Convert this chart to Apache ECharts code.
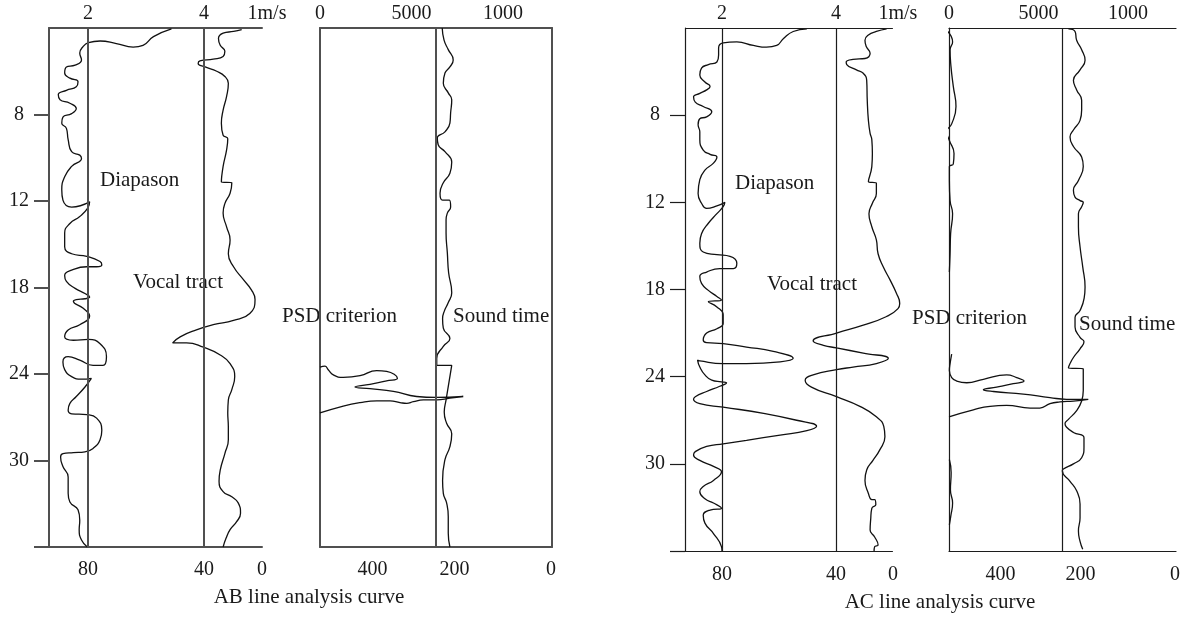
<!DOCTYPE html>
<html>
<head>
<meta charset="utf-8">
<script src="https://cdn.jsdelivr.net/npm/echarts@6/dist/echarts.min.js"></script>
<style>
html, body { margin: 0; padding: 0; background: #fff; }
#chart { width: 1188px; height: 618px; }
</style>
</head>
<body>
<div id="chart"></div>
<script>
// depth axis: evenly spaced steps, labelled 8 ... 30
const depthSteps  = [1, 2, 3, 4, 5]
const depthLabels = ['8', '12', '18', '24', '30']
const depthTickAt = [1, 2, 3, 4, 5, 6]

// left track (m/s scale on top, 80..0 on bottom)
const speedPos       = [2, 4, 5]
const speedTopLabels = ['2', '4', '1m/s']
const speedBotLabels = ['80', '40', '0']
const speedRefLines  = [2, 4]

// right track (0..1000 on top, 400..0 on bottom)
const timeTopPos    = [0, 500, 1000]
const timeTopLabels = ['0', '5000', '1000']
const timeBotPos    = [287, 735, 1262]
const timeBotLabels = ['400', '200', '0']
const timeRefLineAB = 634
const timeRefLineAC = 631

const diapasonAB = [[3.44,0.01],[3.13,0.10],[2.95,0.20],[2.78,0.22],[2.49,0.18],[2.21,0.15],[2.01,0.17],[1.91,0.22],[1.86,0.29],[1.89,0.37],[1.78,0.43],[1.63,0.45],[1.60,0.52],[1.69,0.58],[1.83,0.62],[1.80,0.68],[1.63,0.72],[1.49,0.77],[1.52,0.83],[1.69,0.87],[1.80,0.93],[1.72,0.99],[1.57,1.03],[1.55,1.10],[1.63,1.16],[1.66,1.29],[1.72,1.43],[1.86,1.47],[1.89,1.51],[1.72,1.60],[1.60,1.72],[1.55,1.87],[1.57,1.99],[1.72,2.07],[2.03,2.01],[2.00,2.08],[1.86,2.18],[1.69,2.26],[1.60,2.37],[1.60,2.53],[1.72,2.61],[1.98,2.64],[2.21,2.70],[2.24,2.74],[2.15,2.76],[1.98,2.76],[1.72,2.80],[1.60,2.86],[1.63,2.93],[1.78,3.01],[1.95,3.07],[2.03,3.11],[1.95,3.13],[1.80,3.14],[1.75,3.16],[1.92,3.24],[2.03,3.33],[1.86,3.43],[1.66,3.49],[1.60,3.57],[1.75,3.61],[2.01,3.60],[2.21,3.65],[2.32,3.80],[2.26,3.90],[2.09,3.90],[1.86,3.84],[1.66,3.80],[1.57,3.86],[1.60,3.95],[1.72,4.03],[1.89,4.06],[2.06,4.05],[1.95,4.15],[1.80,4.26],[1.69,4.34],[1.66,4.42],[1.72,4.46],[1.98,4.47],[2.15,4.51],[2.24,4.65],[2.21,4.76],[2.09,4.86],[1.95,4.90],[1.75,4.91],[1.57,4.92],[1.53,4.96],[1.57,5.07],[1.66,5.19],[1.66,5.38],[1.69,5.48],[1.83,5.57],[1.86,5.69],[1.85,5.80],[1.89,5.92],[1.99,6.00]]

const vocalAB = [[4.65,0.02],[4.51,0.04],[4.33,0.06],[4.25,0.12],[4.28,0.20],[4.36,0.27],[4.33,0.33],[4.16,0.36],[3.93,0.38],[3.90,0.41],[4.02,0.45],[4.22,0.50],[4.36,0.56],[4.42,0.64],[4.39,0.79],[4.33,0.95],[4.30,1.10],[4.33,1.24],[4.41,1.28],[4.39,1.41],[4.33,1.60],[4.30,1.78],[4.48,1.79],[4.45,1.91],[4.36,2.03],[4.33,2.14],[4.39,2.30],[4.45,2.45],[4.42,2.61],[4.51,2.76],[4.68,2.91],[4.82,3.03],[4.88,3.14],[4.79,3.30],[4.51,3.38],[4.16,3.43],[3.87,3.49],[3.59,3.57],[3.46,3.64],[3.70,3.64],[3.99,3.69],[4.28,3.78],[4.45,3.88],[4.53,4.03],[4.48,4.18],[4.42,4.30],[4.41,4.45],[4.42,4.61],[4.42,4.76],[4.36,4.92],[4.28,5.11],[4.26,5.24],[4.33,5.36],[4.48,5.42],[4.59,5.49],[4.63,5.61],[4.56,5.71],[4.45,5.80],[4.38,5.90],[4.33,6.00]]

const soundAB = [[668,0.00],[678,0.14],[701,0.25],[728,0.37],[710,0.45],[683,0.52],[674,0.64],[701,0.75],[720,0.83],[714,0.98],[710,1.10],[683,1.20],[641,1.27],[646,1.35],[683,1.43],[720,1.55],[710,1.68],[674,1.79],[656,1.91],[670,1.99],[707,1.99],[714,2.07],[696,2.14],[689,2.22],[689,2.37],[696,2.60],[703,2.83],[720,3.06],[700,3.18],[680,3.27],[670,3.36],[674,3.47],[710,3.59],[674,3.68],[638,3.82],[638,3.90],[720,3.90],[689,4.30],[679,4.44],[692,4.57],[720,4.69],[710,4.84],[683,4.99],[670,5.23],[674,5.38],[692,5.49],[701,5.65],[701,5.84],[710,6.00]]

const psdAB = [[0,3.92],[27,3.91],[45,3.95],[73,4.01],[127,4.04],[219,4.02],[310,3.96],[364,3.97],[423,4.05],[364,4.08],[273,4.12],[191,4.15],[273,4.17],[401,4.20],[528,4.26],[634,4.27],[783,4.26],[710,4.28],[638,4.30],[565,4.30],[510,4.32],[474,4.34],[437,4.33],[383,4.31],[310,4.31],[219,4.33],[127,4.37],[0,4.45]]

const diapasonAC = [[3.49,0.01],[3.25,0.04],[3.08,0.12],[2.96,0.20],[2.78,0.22],[2.55,0.20],[2.26,0.16],[2.02,0.17],[1.94,0.23],[1.94,0.31],[1.91,0.39],[1.76,0.42],[1.64,0.46],[1.61,0.54],[1.70,0.62],[1.79,0.67],[1.73,0.71],[1.61,0.75],[1.50,0.79],[1.53,0.85],[1.67,0.90],[1.82,0.96],[1.73,1.02],[1.61,1.04],[1.58,1.11],[1.61,1.19],[1.61,1.28],[1.67,1.40],[1.79,1.45],[1.91,1.48],[1.85,1.55],[1.70,1.63],[1.61,1.74],[1.58,1.90],[1.64,2.01],[1.73,2.07],[1.91,2.04],[2.05,2.00],[2.02,2.05],[1.91,2.13],[1.76,2.24],[1.64,2.36],[1.61,2.47],[1.67,2.57],[1.91,2.60],[2.14,2.62],[2.26,2.70],[2.20,2.76],[1.96,2.76],[1.73,2.80],[1.61,2.85],[1.64,2.93],[1.76,3.01],[1.91,3.08],[1.99,3.12],[1.76,3.14],[1.91,3.20],[2.02,3.29],[2.02,3.39],[1.91,3.45],[1.73,3.50],[1.67,3.58],[1.73,3.61],[2.02,3.62],[2.43,3.66],[2.90,3.71],[3.25,3.79],[3.02,3.83],[2.43,3.85],[2.02,3.85],[1.61,3.82],[1.57,3.81],[1.61,3.89],[1.70,3.98],[1.82,4.04],[1.99,4.06],[2.08,4.07],[1.96,4.11],[1.73,4.17],[1.53,4.23],[1.50,4.26],[1.61,4.31],[2.02,4.35],[2.73,4.42],[3.31,4.50],[3.66,4.57],[3.49,4.62],[3.02,4.67],[2.43,4.73],[2.02,4.77],[1.73,4.80],[1.53,4.86],[1.50,4.90],[1.61,4.96],[1.85,5.03],[1.99,5.09],[1.85,5.19],[1.67,5.26],[1.61,5.32],[1.70,5.40],[1.85,5.45],[1.99,5.51],[1.79,5.53],[1.67,5.59],[1.70,5.68],[1.85,5.80],[1.99,5.95],[2.00,6.00]]

const vocalAC = [[4.89,0.01],[4.71,0.04],[4.57,0.08],[4.51,0.14],[4.53,0.21],[4.60,0.29],[4.51,0.35],[4.30,0.36],[4.18,0.39],[4.19,0.42],[4.36,0.48],[4.48,0.52],[4.54,0.60],[4.55,0.83],[4.57,1.06],[4.60,1.21],[4.63,1.28],[4.64,1.44],[4.63,1.59],[4.57,1.76],[4.71,1.78],[4.71,1.90],[4.64,2.01],[4.58,2.13],[4.63,2.28],[4.71,2.43],[4.74,2.59],[4.83,2.74],[4.95,2.89],[5.06,3.04],[5.12,3.16],[5.09,3.22],[4.89,3.31],[4.48,3.41],[4.01,3.50],[3.60,3.59],[3.78,3.64],[4.01,3.67],[4.48,3.73],[4.92,3.79],[4.71,3.85],[4.30,3.89],[4.01,3.92],[3.60,3.98],[3.46,4.04],[3.57,4.12],[4.01,4.23],[4.42,4.34],[4.71,4.46],[4.84,4.57],[4.86,4.69],[4.77,4.84],[4.65,4.96],[4.54,5.07],[4.51,5.19],[4.57,5.34],[4.63,5.41],[4.68,5.41],[4.70,5.47],[4.63,5.51],[4.61,5.64],[4.60,5.76],[4.68,5.84],[4.74,5.93],[4.68,5.95],[4.67,6.00]]

const soundAC = [[667,0.01],[704,0.04],[713,0.14],[741,0.25],[760,0.37],[732,0.48],[695,0.60],[713,0.71],[741,0.83],[741,0.94],[732,1.06],[695,1.17],[676,1.25],[695,1.36],[741,1.48],[750,1.59],[723,1.75],[695,1.86],[704,1.94],[732,1.98],[750,2.00],[741,2.05],[723,2.13],[723,2.28],[732,2.51],[747,2.74],[760,2.97],[755,3.10],[732,3.24],[704,3.32],[704,3.43],[732,3.55],[754,3.60],[732,3.68],[695,3.78],[676,3.85],[667,3.90],[750,3.91],[750,4.16],[741,4.28],[713,4.39],[667,4.49],[648,4.54],[657,4.58],[695,4.64],[754,4.70],[754,4.81],[741,4.93],[695,5.00],[639,5.06],[633,5.08],[676,5.20],[713,5.31],[732,5.46],[732,5.62],[723,5.77],[732,5.89],[747,5.98]]

const psdAcTop = [[-17,0.02],[20,0.16],[6,0.25],[11,0.44],[24,0.67],[39,0.90],[15,1.10],[-13,1.19],[2,1.29],[28,1.44],[24,1.56],[2,1.59],[2,1.75],[6,1.98],[20,2.13],[9,2.36],[6,2.59],[2,2.80]]
const psdAC = [[15,3.74],[6,3.85],[2,3.93],[15,4.01],[43,4.05],[99,4.07],[192,4.03],[322,3.98],[378,4.01],[419,4.05],[359,4.08],[266,4.12],[192,4.15],[248,4.17],[415,4.20],[564,4.24],[657,4.26],[778,4.26],[695,4.28],[620,4.29],[564,4.31],[508,4.36],[453,4.36],[322,4.33],[229,4.34],[136,4.38],[0,4.46]]
const psdAcLow = [[2,4.95],[12,5.10],[8,5.30],[20,5.45],[10,5.60],[2,5.70]]

const FONT = 'Liberation Serif'
const INK = '#1a1a1a'
const frameAB = { color: '#505050', width: 2 }
const frameAC = { color: '#1c1c1c', width: 1.2 }

const labelStyle = { fontFamily: FONT, fontSize: 20, color: INK }

function pick(pos, labels) {
  return v => {
    const i = pos.indexOf(v)
    return i < 0 ? '' : labels[i]
  }
}

function xAxis(grid, min, max, position, pos, labels, frame, margin, showLine = true) {
  const fmt = pick(pos, labels)
  return {
    gridIndex: grid, type: 'value', position, min, max,
    splitLine: { show: false },
    axisTick: { show: false },
    axisLine: { show: showLine, onZero: false, lineStyle: frame },
    axisLabel: {
      ...labelStyle, margin, customValues: pos,
      formatter: v => (fmt(v) === '1m/s' ? '{u|1m/s}' : fmt(v)),
      rich: { u: { ...labelStyle, padding: [0, 0, 0, 10] } },
    },
  }
}

function depthAxis(grid, frame, withLabels, position = 'left') {
  return {
    gridIndex: grid, type: 'value', inverse: true, min: 0, max: 6, position,
    splitLine: { show: false },
    axisLine: { show: true, onZero: false, lineStyle: frame },
    axisTick: withLabels
      ? { show: true, customValues: depthTickAt, length: 15, lineStyle: frame }
      : { show: false },
    axisLabel: withLabels
      ? { ...labelStyle, customValues: depthSteps, formatter: pick(depthSteps, depthLabels), align: 'center', margin: 30 }
      : { show: false },
  }
}

function curve(data, xi, yi, refLines, frame) {
  const s = {
    type: 'line', data, xAxisIndex: xi, yAxisIndex: yi,
    smooth: 0.5, showSymbol: false, clip: false, silent: true,
    lineStyle: { color: '#111', width: 1.3 },
  }
  if (refLines) s.markLine = {
    silent: true, symbol: 'none', label: { show: false },
    lineStyle: { ...frame, type: 'solid' },
    data: refLines,
  }
  return s
}

function note(text, x, y, align = 'left') {
  return {
    type: 'text', x, y, silent: true,
    style: { text, fontFamily: FONT, fontSize: 21, fill: INK, align, verticalAlign: 'middle' },
  }
}

const vLines = vals => vals.map(v => ({ xAxis: v }))

// AC left track: curve bulges past the 1m/s end, so the grid is a little wider
// and the top / bottom frame lines are drawn only up to 5
const acMin = 1.35, acEnd = 5, acMax = 5.16
const acFrame = [
  ...vLines(speedRefLines),
  [{ coord: [acMin, 0] }, { coord: [acEnd, 0] }],
  [{ coord: [acMin, 6] }, { coord: [acEnd, 6] }],
]

const chart = echarts.init(document.getElementById('chart'), null, { renderer: 'canvas' })

chart.setOption({
  animation: false,
  backgroundColor: '#fff',
  grid: [
    { left: 49, top: 28, width: 213, height: 519 },
    { left: 320, top: 28, width: 232, height: 519 },
    { left: 685, top: 28, width: 217, height: 523 },
    { left: 949, top: 28, width: 227, height: 523 },
  ],
  xAxis: [
    xAxis(0, 1.33, 5, 'top', speedPos, speedTopLabels, frameAB, 4),
    xAxis(0, 1.33, 5, 'bottom', speedPos, speedBotLabels, frameAB, 13),
    xAxis(1, 0, 1268, 'top', timeTopPos, timeTopLabels, frameAB, 4),
    xAxis(1, 0, 1268, 'bottom', timeBotPos, timeBotLabels, frameAB, 13),
    xAxis(2, acMin, acMax, 'top', speedPos, speedTopLabels, frameAC, 4, false),
    xAxis(2, acMin, acMax, 'bottom', speedPos, speedBotLabels, frameAC, 14, false),
    xAxis(3, 0, 1268, 'top', timeTopPos, timeTopLabels, frameAC, 4),
    xAxis(3, 0, 1268, 'bottom', timeBotPos, timeBotLabels, frameAC, 14),
  ],
  yAxis: [
    depthAxis(0, frameAB, true),
    depthAxis(1, frameAB, false),
    depthAxis(1, frameAB, false, 'right'),
    depthAxis(2, frameAC, true),
    depthAxis(3, frameAC, false),
  ],
  series: [
    curve(diapasonAB, 0, 0, vLines(speedRefLines), frameAB),
    curve(vocalAB, 0, 0),
    curve(soundAB, 2, 1, vLines([timeRefLineAB]), frameAB),
    curve(psdAB, 2, 1),
    curve(diapasonAC, 4, 3, acFrame, frameAC),
    curve(vocalAC, 4, 3),
    curve(soundAC, 6, 4, vLines([timeRefLineAC]), frameAC),
    curve(psdAcTop, 6, 4),
    curve(psdAC, 6, 4),
    curve(psdAcLow, 6, 4),
  ],
  graphic: [
    note('Diapason', 100, 180),
    note('Vocal tract', 133, 282),
    note('PSD criterion', 282, 316),
    note('Sound time', 453, 316),
    note('AB line analysis curve', 309, 597, 'center'),
    note('Diapason', 735, 183),
    note('Vocal tract', 767, 284),
    note('PSD criterion', 912, 318),
    note('Sound time', 1079, 324),
    note('AC line analysis curve', 940, 602, 'center'),
  ],
})
</script>
</body>
</html>
